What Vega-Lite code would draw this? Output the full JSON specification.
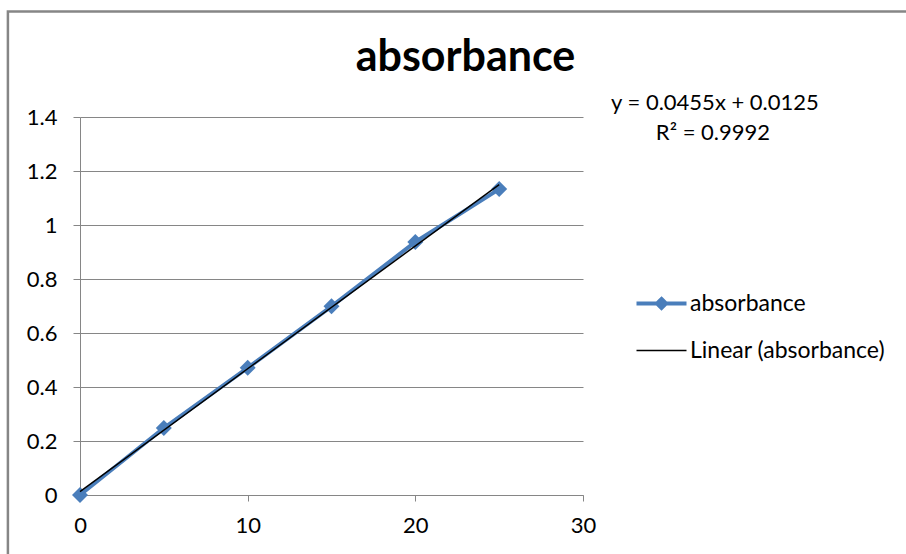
{
  "$schema": "https://vega.github.io/schema/vega-lite/v6.json",
  "width": 503,
  "height": 378,
  "autosize": {"type": "none"},
  "padding": {"left": 80, "top": 117, "right": 323, "bottom": 59},
  "background": "white",
  "config": {
    "view": {"stroke": null},
    "font": "Lato"
  },
  "title": {
    "text": "absorbance",
    "anchor": "middle",
    "dx": 134,
    "fontSize": 43,
    "font": "Lato",
    "fontWeight": "bold",
    "offset": -70,
    "color": "black"
  },
  "data": {
    "values": [
      {"conc": 0, "absorbance": 0},
      {"conc": 5, "absorbance": 0.248},
      {"conc": 10, "absorbance": 0.471},
      {"conc": 15, "absorbance": 0.699},
      {"conc": 20, "absorbance": 0.937},
      {"conc": 25, "absorbance": 1.133}
    ]
  },
  "encoding": {
    "x": {
      "field": "conc",
      "type": "quantitative",
      "scale": {"domain": [0, 30], "nice": false, "zero": false},
      "axis": {
        "values": [0, 10, 20, 30],
        "grid": false,
        "title": null,
        "labelFlush": false,
        "labelOverlap": false,
        "domainColor": "#868686",
        "tickColor": "#868686",
        "tickSize": 6,
        "labelPadding": 14,
        "labelFontSize": 22,
        "labelFont": "Lato",
        "labelColor": "black"
      }
    },
    "y": {
      "field": "absorbance",
      "type": "quantitative",
      "scale": {"domain": [0, 1.4], "nice": false},
      "axis": {
        "values": [0, 0.2, 0.4, 0.6, 0.8, 1, 1.2, 1.4],
        "format": "~g",
        "grid": true,
        "labelOverlap": false,
        "gridColor": "#868686",
        "domainColor": "#868686",
        "tickColor": "#868686",
        "tickSize": 7,
        "labelPadding": 16,
        "labelFontSize": 22,
        "labelFont": "Lato",
        "labelColor": "black",
        "title": null
      }
    }
  },
  "layer": [
    {
      "transform": [{"filter": "datum.conc == 25"}],
      "mark": {"type": "rect", "fill": null, "stroke": "#868686", "strokeWidth": 2.5},
      "encoding": {
        "x": {"datum": -4.3},
        "x2": {"datum": 56},
        "y": {"datum": 1.791},
        "y2": {"datum": -0.4}
      }
    },
    {
      "mark": {"type": "line", "strokeWidth": 4},
      "encoding": {
        "color": {
          "datum": "absorbance",
          "scale": {"domain": ["absorbance", "Linear (absorbance)"], "range": ["#4a7ebb", "#000000"]},
          "legend": {
            "orient": "none",
            "legendX": 570,
            "legendY": 175,
            "title": null,
            "symbolSize": 2500,
            "rowPadding": 23,
            "labelOffset": 17,
            "labelLimit": 400,
            "labelFontSize": 23,
            "labelFont": "Lato",
            "labelColor": "black",
            "encode": {
              "symbols": {
                "update": {
                  "shape": {"signal": "datum.value == 'absorbance' ? 'M-1,0L1,0M0,-0.18L0.18,0L0,0.18L-0.18,0Z' : 'stroke'"},
                  "size": {"value": 2500},
                  "strokeWidth": {"signal": "datum.value == 'absorbance' ? 4 : 1.5"},
                  "stroke": {"signal": "datum.value == 'absorbance' ? '#4a7ebb' : '#000000'"},
                  "fill": {"signal": "datum.value == 'absorbance' ? '#4a7ebb' : 'transparent'"},
                  "opacity": {"value": 1}
                }
              }
            }
          }
        }
      }
    },
    {
      "mark": {"type": "point", "shape": "diamond", "filled": true, "size": 256, "opacity": 1},
      "encoding": {"color": {"datum": "absorbance"}}
    },
    {
      "transform": [{"regression": "absorbance", "on": "conc"}],
      "mark": {"type": "line", "strokeWidth": 1.5},
      "encoding": {"color": {"datum": "Linear (absorbance)"}}
    },
    {
      "transform": [{"filter": "datum.conc == 25"}],
      "mark": {"type": "text", "align": "center", "baseline": "middle", "fontSize": 22, "font": "Lato", "color": "black"},
      "encoding": {
        "x": {"datum": 37.87},
        "y": {"datum": 1.452},
        "text": {"value": "y = 0.0455x + 0.0125"}
      }
    },
    {
      "transform": [{"filter": "datum.conc == 25"}],
      "mark": {"type": "text", "align": "center", "baseline": "middle", "fontSize": 22, "font": "Lato", "color": "black"},
      "encoding": {
        "x": {"datum": 37.75},
        "y": {"datum": 1.341},
        "text": {"value": "R² = 0.9992"}
      }
    }
  ]
}
